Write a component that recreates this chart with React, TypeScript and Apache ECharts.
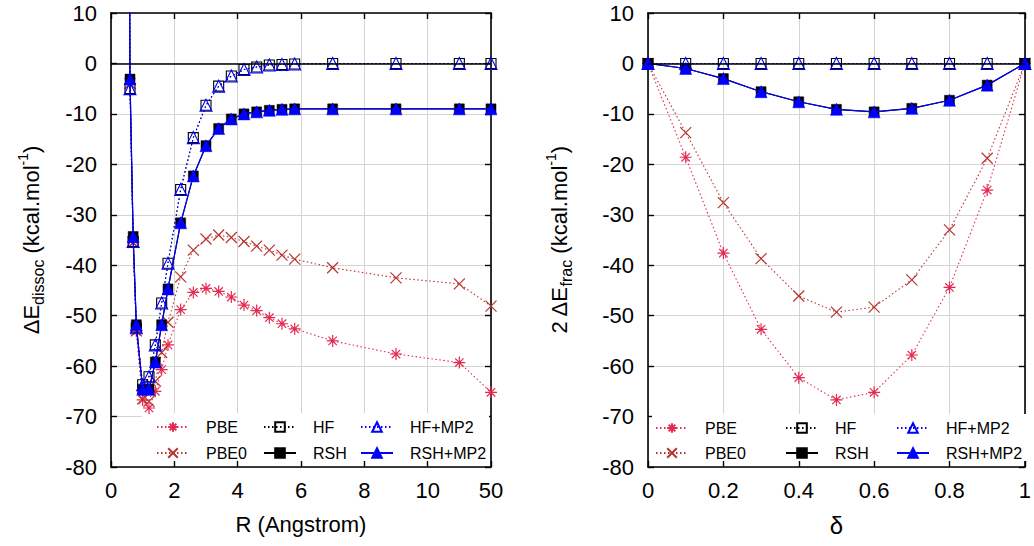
import React, { useEffect, useRef } from 'react';
import * as echarts from 'echarts';

// ---------- data ----------
// Left panel: dissociation curve (R in Angstrom; last point is R = 50 on a broken axis)
const R = [0.5, 0.6, 0.7, 0.8, 1.0, 1.2, 1.4, 1.6, 1.8, 2.2, 2.6, 3.0, 3.4, 3.8, 4.2, 4.6, 5.0, 5.4, 5.8, 7, 9, 11, 50];
const dissocPBE = [150, -4.0, -35.5, -53.1, -66.7, -68.3, -65.0, -60.7, -55.8, -48.8, -45.4, -44.6, -45.2, -46.3, -47.9, -49.0, -50.4, -51.6, -52.6, -55.0, -57.6, -59.3, -65.2];
const dissocPBE0 = [150, -4.0, -35.5, -53.0, -66.5, -67.0, -63.0, -57.3, -51.3, -42.3, -37.0, -34.8, -34.0, -34.5, -35.3, -36.2, -37.0, -38.0, -38.8, -40.5, -42.5, -43.7, -48.1];
const dissocHF = [150, -5.0, -35.3, -52.4, -63.7, -62.1, -55.8, -47.5, -39.6, -25.0, -14.7, -8.3, -4.5, -2.5, -1.2, -0.7, -0.3, -0.2, -0.1, 0, 0, 0, 0];
const dissocRSH = [150, -3.1, -34.3, -51.8, -64.6, -64.6, -59.2, -51.8, -44.7, -31.6, -22.3, -16.3, -12.9, -11.0, -10.0, -9.6, -9.3, -9.1, -9.0, -9.0, -9.0, -9.0, -9.0];
const dissocHFMP2 = [150, -5.0, -35.3, -52.4, -63.7, -62.1, -55.8, -47.5, -39.6, -25.0, -14.7, -8.3, -4.5, -2.5, -1.2, -0.7, -0.3, -0.2, -0.1, 0, 0, 0, 0];
const dissocRSHMP2 = [150, -3.1, -34.3, -51.8, -64.6, -64.6, -59.2, -51.8, -44.7, -31.6, -22.3, -16.3, -12.9, -11.0, -10.0, -9.6, -9.3, -9.1, -9.0, -9.0, -9.0, -9.0, -9.0];
const rTickLabels = ['0', '2', '4', '6', '8', '10', '50'];
const R_BREAK_POS = 12; // axis position where R = 50 is drawn

// Right panel: fractional charge error
const delta = [0, 0.1, 0.2, 0.3, 0.4, 0.5, 0.6, 0.7, 0.8, 0.9, 1.0];
const fracPBE = [0, -18.6, -37.6, -52.7, -62.3, -66.7, -65.2, -57.8, -44.4, -25.1, 0];
const fracPBE0 = [0, -13.7, -27.6, -38.7, -46.1, -49.3, -48.3, -42.9, -33.0, -18.8, 0];
const fracHF = [0, 0, 0, 0, 0, 0, 0, 0, 0, 0, 0];
const fracRSH = [0, -1.0, -3.0, -5.6, -7.6, -9.1, -9.6, -8.9, -7.3, -4.3, 0];
const fracHFMP2 = [0, 0, 0, 0, 0, 0, 0, 0, 0, 0, 0];
const fracRSHMP2 = [0, -1.0, -3.0, -5.6, -7.6, -9.1, -9.6, -8.9, -7.3, -4.3, 0];
const deltaTickLabels = ['0', '0.2', '0.4', '0.6', '0.8', '1'];

const seriesNames = ['PBE', 'PBE0', 'HF', 'RSH', 'HF+MP2', 'RSH+MP2'];

// ---------- styles ----------
const FONT = '"Liberation Sans", Arial, Helvetica, sans-serif';
const STAR = 'path://M5,0 L5,10 M0,5 L10,5 M1.5,1.5 L8.5,8.5 M1.5,8.5 L8.5,1.5';
const CROSS = 'path://M0,0 L10,10 M0,10 L10,0';
const DOT: number[] = [1.5, 2.5];

const styles: Record<string, any> = {
  'PBE': { color: '#e52a52', symbol: STAR, size: 12, fill: 'none', bw: 1.2, lw: 1.1, dash: DOT, z: 2 },
  'PBE0': { color: '#b8352f', symbol: CROSS, size: 11, fill: 'none', bw: 1.2, lw: 1.1, dash: DOT, z: 2 },
  'HF': { color: '#000000', symbol: 'rect', size: 10, fill: 'rgba(255,255,255,0)', bw: 1.1, lw: 1.1, dash: DOT, z: 3 },
  'RSH': { color: '#000000', symbol: 'rect', size: 10, fill: '#000000', bw: 0.5, lw: 1.2, dash: 'solid', z: 3 },
  'HF+MP2': { color: '#0000ff', symbol: 'triangle', size: 12, fill: 'rgba(255,255,255,0)', bw: 1.1, lw: 1.1, dash: DOT, z: 4 },
  'RSH+MP2': { color: '#0000ff', symbol: 'triangle', size: 12, fill: '#0000ff', bw: 0.5, lw: 1.2, dash: 'solid', z: 4 },
};

function rPos(r: number) {
  return r > 11.5 ? R_BREAK_POS : r;
}

function mkSeries(name: string, xs: number[], ys: number[], xi: number, yi: number) {
  const st = styles[name];
  return {
    type: 'line',
    name,
    xAxisIndex: xi,
    yAxisIndex: yi,
    data: xs.map((x, i) => [x, ys[i]]),
    symbol: st.symbol,
    symbolSize: st.size,
    showAllSymbol: true,
    color: st.color,
    lineStyle: { color: st.color, width: st.lw, type: st.dash },
    itemStyle: { color: st.fill, borderColor: st.color, borderWidth: st.bw },
    emphasis: { disabled: true },
    z: st.z,
    clip: true,
  };
}

const axisLineStyle = { show: true, onZero: false, lineStyle: { color: '#000', width: 1.6 } };
const tickStyle = { show: true, inside: true, length: 6, lineStyle: { color: '#000', width: 1.4 } };
const gridLineStyle = { show: true, lineStyle: { color: '#d4d4d4', width: 1 } };
const tickFont = { fontSize: 22, color: '#000', fontFamily: FONT };

const richName = {
  a: { fontSize: 22, fontFamily: FONT, color: '#000', lineHeight: 30, verticalAlign: 'middle' },
  sub: { fontSize: 16, fontFamily: FONT, color: '#000', lineHeight: 16, verticalAlign: 'bottom' },
  sup: { fontSize: 14, fontFamily: FONT, color: '#000', lineHeight: 14, verticalAlign: 'top' },
};

function legendsFor(iconLefts: number[], textRowTops: number[]) {
  const out: any[] = [];
  seriesNames.forEach((n, i) => {
    const col = Math.floor(i / 2);
    const row = i % 2;
    out.push({
      data: [n],
      left: iconLefts[col],
      top: textRowTops[row],
      itemWidth: 32,
      itemHeight: 12,
      padding: 0,
      selectedMode: false,
      textStyle: { fontSize: 16, color: '#000', fontFamily: FONT, padding: [0, 0, 0, 12] },
    });
  });
  return out;
}

export default function App() {
  const ref = useRef<HTMLDivElement>(null);
  useEffect(() => {
    if (!ref.current) return;
    const chart = echarts.init(ref.current, undefined, { renderer: 'svg' });
    const rX = R.map(rPos);

    const option: any = {
      animation: false,
      backgroundColor: '#ffffff',
      textStyle: { fontFamily: FONT },
      grid: [
        { left: 111, top: 13, width: 380, height: 454 },
        { left: 648, top: 13, width: 380, height: 454 },
      ],
      xAxis: [
        {
          type: 'value', gridIndex: 0, min: 0, max: 12, interval: 2,
          axisLine: axisLineStyle, axisTick: tickStyle, splitLine: gridLineStyle,
          axisLabel: { ...tickFont, margin: 12, formatter: (v: number) => rTickLabels[Math.round(v / 2)] ?? '' },
          name: 'R (Angstrom)', nameLocation: 'middle', nameGap: 46,
          nameTextStyle: { fontSize: 22, color: '#000', fontFamily: FONT },
        },
        {
          type: 'value', gridIndex: 0, min: 0, max: 12, interval: 2, position: 'top',
          axisLine: axisLineStyle, axisTick: tickStyle, splitLine: { show: false }, axisLabel: { show: false },
        },
        {
          type: 'value', gridIndex: 1, min: 0, max: 1, interval: 0.2,
          axisLine: axisLineStyle, axisTick: tickStyle, splitLine: gridLineStyle,
          axisLabel: { ...tickFont, margin: 12, formatter: (v: number) => deltaTickLabels[Math.round(v / 0.2)] ?? '' },
          name: 'δ', nameLocation: 'middle', nameGap: 46,
          nameTextStyle: { fontSize: 24, color: '#000', fontFamily: FONT },
        },
        {
          type: 'value', gridIndex: 1, min: 0, max: 1, interval: 0.2, position: 'top',
          axisLine: axisLineStyle, axisTick: tickStyle, splitLine: { show: false }, axisLabel: { show: false },
        },
      ],
      yAxis: [
        {
          type: 'value', gridIndex: 0, min: -80, max: 10, interval: 10,
          axisLine: axisLineStyle, axisTick: tickStyle, splitLine: gridLineStyle,
          axisLabel: { ...tickFont, margin: 14 },
          name: '{a|ΔE}{sub|dissoc}{a| (kcal.mol}{sup|-1}{a|)}',
          nameLocation: 'middle', nameGap: 65, nameRotate: 90,
          nameTextStyle: { rich: richName },
        },
        {
          type: 'value', gridIndex: 0, min: -80, max: 10, interval: 10, position: 'right',
          axisLine: axisLineStyle, axisTick: tickStyle, splitLine: { show: false }, axisLabel: { show: false },
        },
        {
          type: 'value', gridIndex: 1, min: -80, max: 10, interval: 10,
          axisLine: axisLineStyle, axisTick: tickStyle, splitLine: gridLineStyle,
          axisLabel: { ...tickFont, margin: 14 },
          name: '{a|2 ΔE}{sub|frac}{a| (kcal.mol}{sup|-1}{a|)}',
          nameLocation: 'middle', nameGap: 74, nameRotate: 90,
          nameTextStyle: { rich: richName },
        },
        {
          type: 'value', gridIndex: 1, min: -80, max: 10, interval: 10, position: 'right',
          axisLine: axisLineStyle, axisTick: tickStyle, splitLine: { show: false }, axisLabel: { show: false },
        },
      ],
      legend: [
        ...legendsFor([156, 263, 360], [419, 445]),
        ...legendsFor([655, 785, 896], [420, 445]),
      ],
      graphic: [
        { type: 'rect', z: 1, shape: { x: 142, y: 413, width: 347, height: 48 }, style: { fill: '#ffffff' } },
        { type: 'rect', z: 1, shape: { x: 652, y: 414, width: 374, height: 47 }, style: { fill: '#ffffff' } },
      ],
      series: [
        {
          type: 'line', name: '_zero0', xAxisIndex: 0, yAxisIndex: 0, data: [], z: 1,
          markLine: { silent: true, symbol: ['none', 'none'], label: { show: false },
            lineStyle: { color: '#000', width: 1.6, type: 'solid' }, data: [{ yAxis: 0 }] },
        },
        {
          type: 'line', name: '_zero1', xAxisIndex: 2, yAxisIndex: 2, data: [], z: 1,
          markLine: { silent: true, symbol: ['none', 'none'], label: { show: false },
            lineStyle: { color: '#000', width: 1.6, type: 'solid' }, data: [{ yAxis: 0 }] },
        },
        mkSeries('PBE', rX, dissocPBE, 0, 0),
        mkSeries('PBE0', rX, dissocPBE0, 0, 0),
        mkSeries('HF', rX, dissocHF, 0, 0),
        mkSeries('RSH', rX, dissocRSH, 0, 0),
        mkSeries('HF+MP2', rX, dissocHFMP2, 0, 0),
        mkSeries('RSH+MP2', rX, dissocRSHMP2, 0, 0),
        mkSeries('PBE', delta, fracPBE, 2, 2),
        mkSeries('PBE0', delta, fracPBE0, 2, 2),
        mkSeries('HF', delta, fracHF, 2, 2),
        mkSeries('RSH', delta, fracRSH, 2, 2),
        mkSeries('HF+MP2', delta, fracHFMP2, 2, 2),
        mkSeries('RSH+MP2', delta, fracRSHMP2, 2, 2),
      ],
    };
    chart.setOption(option);
    return () => chart.dispose();
  }, []);

  return (
    <div
      ref={ref}
      style={{ position: 'fixed', left: 0, top: 0, width: 1034, height: 546, background: '#fff' }}
    />
  );
}
